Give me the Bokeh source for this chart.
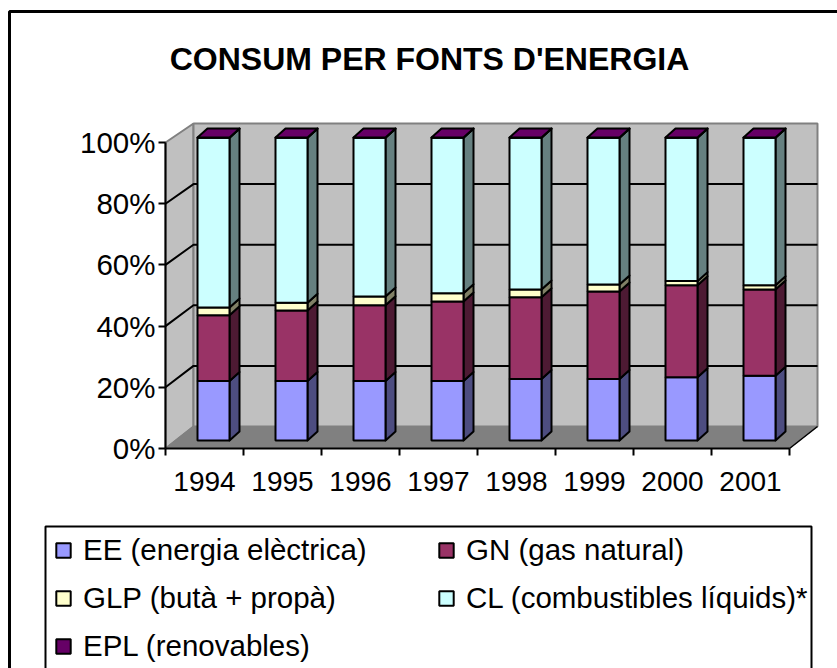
from bokeh.plotting import figure
from bokeh.models import Range1d, FixedTicker, Label, Legend, LegendItem, BoxAnnotation, LinearAxis
from bokeh.embed import file_html
from bokeh.resources import INLINE

years = ["1994", "1995", "1996", "1997", "1998", "1999", "2000", "2001"]
EE = [19.6, 19.6, 19.6, 19.6, 20.3, 20.3, 20.9, 21.4]
GN = [21.7, 23.3, 25.0, 26.3, 27.0, 28.9, 30.3, 28.4]
GLP = [2.6, 2.6, 2.9, 2.7, 2.5, 2.3, 1.4, 1.4]
EPL = [0.1, 0.1, 0.1, 0.1, 0.1, 0.1, 0.1, 0.1]
CL = [round(100 - a - b - c - d, 1) for a, b, c, d in zip(EE, GN, GLP, EPL)]
series = [
    ("EE (energia elèctrica)", EE, "#9999FF", "#4D4D80"),
    ("GN (gas natural)", GN, "#993366", "#4D1A33"),
    ("GLP (butà + propà)", GLP, "#FFFFCC", "#808066"),
    ("CL (combustibles líquids)*", CL, "#CCFFFF", "#668080"),
    ("EPL (renovables)", EPL, "#660066", "#330033"),
]
legend_order = [0, 2, 4, 1, 3]
yticks = [0, 20, 40, 60, 80, 100]
title = "CONSUM PER FONTS D'ENERGIA"

FONT = "Liberation Sans"
OX, OY, W, H = 0, 0, 837, 668    # where the figure sits in the picture
AX_L, AX_B = 165, 448            # position of the axes' origin
PX_X, PX_Y = 78.0, 3.06          # pixels per category / per percent
SCALE = 303 / 306                # 3-D foreshortening of the vertical scale
WALL_DX, WALL_DY = 28 / PX_X, 22 / PX_Y
BAR_X0, BAR_W = 32 / PX_X, 32 / PX_X
BAR_LIFT = 8 / PX_Y
SIDE_DX, SIDE_DY = 10 / PX_X, 9 / PX_Y

p = figure(width=W, height=H, output_backend="svg", toolbar_location=None,
           x_range=Range1d((OX - AX_L) / PX_X, (OX + W - AX_L) / PX_X),
           y_range=Range1d((AX_B - OY - H) / PX_Y, (AX_B - OY) / PX_Y),
           x_axis_type=None, y_axis_type=None,
           min_border=0, outline_line_color=None)
p.grid.visible = False

n = len(years)
top = 100 * SCALE + WALL_DY
p.patch([0, WALL_DX, WALL_DX, 0], [0, WALL_DY, top, 100], fill_color="#C0C0C0", line_color="#808080", line_width=2)
p.patch([WALL_DX, n + WALL_DX, n + WALL_DX, WALL_DX], [WALL_DY, WALL_DY, top, top],
        fill_color="#C0C0C0", line_color="#808080", line_width=2)
p.patch([0, n, n + WALL_DX, WALL_DX], [0, 0, WALL_DY, WALL_DY], fill_color="#808080", line_color="#808080", line_width=1)
p.line([n, n + WALL_DX], [0, WALL_DY], line_color="black", line_width=1.5)
p.line([0, WALL_DX], [0, WALL_DY], line_color="#808080", line_width=1.5)
for v in yticks[1:-1]:
    yb = v * SCALE + WALL_DY
    p.line([0, WALL_DX, n + WALL_DX], [v, yb, yb], line_color="black", line_width=2)

items = []
base = [BAR_LIFT] * n
for name, vals, col, side in series:
    tops = [b + v * SCALE for b, v in zip(base, vals)]
    xs = [i + BAR_X0 for i in range(n)]
    xr = [x + BAR_W for x in xs]
    p.patches([[r, r + SIDE_DX, r + SIDE_DX, r] for r in xr],
              [[b, b + SIDE_DY, t + SIDE_DY, t] for b, t in zip(base, tops)],
              fill_color=side, line_color="black", line_width=2, line_join="round")
    r = p.quad(left=xs, right=xr, bottom=base, top=tops, fill_color=col, line_color="black", line_width=2)
    items.append(LegendItem(label=name, renderers=[r]))
    base = tops
xs = [i + BAR_X0 for i in range(n)]
p.patches([[x, x + BAR_W, x + BAR_W + SIDE_DX, x + SIDE_DX] for x in xs],
          [[b, b, b + SIDE_DY, b + SIDE_DY] for b in base],
          fill_color=series[-1][2], line_color="black", line_width=2, line_join="round")

yax = LinearAxis(ticker=FixedTicker(ticks=yticks), bounds=(0, 100), fixed_location=0,
                 major_label_overrides={v: f"{v}%" for v in yticks},
                 axis_line_color="black", axis_line_width=2,
                 major_tick_line_color="black", major_tick_line_width=2,
                 major_tick_out=7, major_tick_in=0, minor_tick_line_color=None,
                 major_label_text_font=FONT, major_label_text_font_size="29.5px",
                 major_label_text_color="black", major_label_standoff=3)
p.add_layout(yax, "left")
xax = LinearAxis(ticker=FixedTicker(ticks=[i + 0.5 for i in range(n)], minor_ticks=list(range(n + 1))),
                 bounds=(0, n), fixed_location=0,
                 major_label_overrides={i + 0.5: y for i, y in enumerate(years)},
                 axis_line_color="black", axis_line_width=2,
                 major_tick_line_color=None, major_tick_out=0, major_tick_in=0,
                 minor_tick_line_color="black", minor_tick_line_width=2,
                 minor_tick_out=7, minor_tick_in=0,
                 major_label_text_font=FONT, major_label_text_font_size="28px",
                 major_label_text_color="black", major_label_standoff=16)
p.add_layout(xax, "below")

p.add_layout(BoxAnnotation(left=9 - OX, top=11 - OY, right=900, bottom=900,
                           left_units="canvas", right_units="canvas", top_units="canvas", bottom_units="canvas",
                           fill_color=None, line_color="black", line_alpha=1, line_width=3, level="underlay"))
p.add_layout(BoxAnnotation(left=45 - OX, top=526 - OY, right=811 - OX, bottom=668.9 - OY,
                           left_units="canvas", right_units="canvas", top_units="canvas", bottom_units="canvas",
                           fill_color=None, line_color="black", line_alpha=1, line_width=2, level="underlay"))

legend = Legend(items=[items[i] for i in legend_order], ncols=2, location=(54 - OX, OY + H - 662.5),
                border_line_color=None, background_fill_color=None, padding=0, margin=0,
                spacing=14, glyph_width=18, glyph_height=18, label_height=18, label_width=340,
                label_standoff=11, label_text_font=FONT, label_text_font_size="29.5px",
                label_text_color="black")
p.add_layout(legend, "center")

p.add_layout(Label(x=429 - OX, y=58 - OY, x_units="canvas", y_units="canvas", text=title,
                   text_align="center", text_baseline="middle", text_font=FONT,
                   text_font_size="32px", text_font_style="bold", text_color="black"))

open("out.html", "w").write(file_html(p, INLINE))
